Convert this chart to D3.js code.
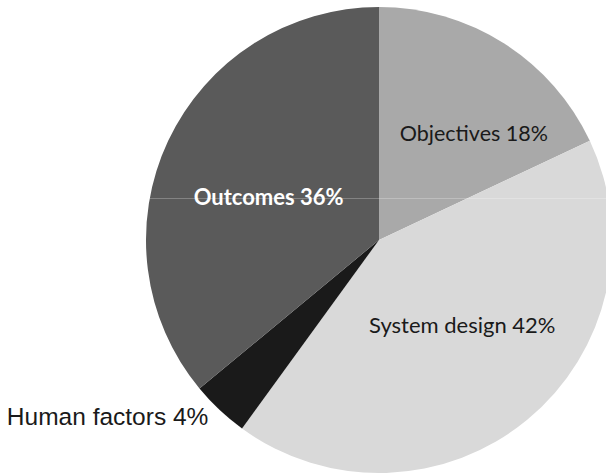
<!DOCTYPE html>
<html>
<head>
<meta charset="utf-8">
<script src="https://cdn.jsdelivr.net/npm/d3@7"></script>
<style>
  body { margin: 0; background: #fff; }
</style>
</head>
<body>
<svg width="606" height="474"></svg>
<script>
const categories = ["Objectives", "System design", "Human factors", "Outcomes"];
const shares = [18, 42, 4, 36];
const colors = ["#a9a9a9", "#d9d9d9", "#1a1a1a", "#5a5a5a"];

const svg = d3.select("svg");
const cx = 379, cy = 240, radius = 233;

const data = categories.map((c, i) => ({ name: c, value: shares[i], color: colors[i] }));

const pie = d3.pie().value(d => d.value).sort(null);
const arc = d3.arc().innerRadius(0).outerRadius(radius);
const arcs = pie(data);

const group = svg.append("g")
  .attr("transform", `translate(${cx}, ${cy})`);

group.selectAll("path").data(arcs)
  .enter().append("path")
    .attr("d", arc)
    .attr("fill", d => d.data.color);

// faint horizontal rule that runs across the pie in the original
svg.append("clipPath").attr("id", "pieClip")
  .append("circle").attr("cx", cx).attr("cy", cy).attr("r", radius);
svg.append("line")
  .attr("clip-path", "url(#pieClip)")
  .attr("x1", cx - radius).attr("x2", cx + radius)
  .attr("y1", 198.5).attr("y2", 198.5)
  .attr("stroke", "#fff").attr("stroke-opacity", 0.25).attr("stroke-width", 1);

// label placement: radius factor of the centroid arc plus a small nudge
const labelStyle = {
  "Objectives":    { k: 0.6, dx: 20,  dy: 19, fill: "#1a1a1a", weight: "normal", font: "Lato", size: 21.5 },
  "System design": { k: 0.5, dx: 9,   dy: 3,  fill: "#1a1a1a", weight: "normal", font: "Lato", size: 22 },
  "Outcomes":      { k: 0.5, dx: -5,  dy: 15, fill: "#ffffff", weight: "bold",   font: "Lato", size: 22 },
  "Human factors": { k: 1.2, dx: -80, dy: -19, fill: "#1a1a1a", weight: "normal", font: "Liberation Sans", size: 24.5 }
};

group.selectAll("text.label").data(arcs)
  .enter().append("text")
    .attr("class", "label")
    .each(function(d) {
      const s = labelStyle[d.data.name];
      const labelArc = d3.arc().innerRadius(radius * s.k).outerRadius(radius * s.k);
      const [x, y] = labelArc.centroid(d);
      d3.select(this)
        .attr("x", x + s.dx)
        .attr("y", y + s.dy)
        .attr("text-anchor", "middle")
        .attr("fill", s.fill)
        .attr("font-family", s.font)
        .attr("font-weight", s.weight)
        .attr("font-size", s.size);
    })
    .text(d => `${d.data.name} ${d.data.value}%`);
</script>
</body>
</html>
